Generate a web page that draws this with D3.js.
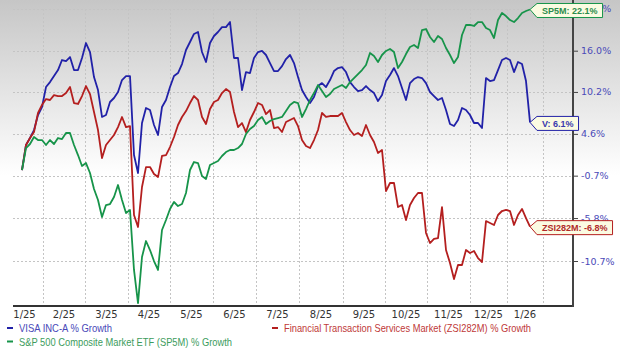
<!DOCTYPE html>
<html>
<head>
<meta charset="utf-8">
<script src="https://cdn.jsdelivr.net/npm/d3@7"></script>
<style>
  body { margin: 0; background: #fff; }
  svg { display: block; font-family: "Liberation Sans", Arial, sans-serif; }
</style>
</head>
<body>
<div id="content"></div>
<script>
// month labels and month boundaries (in sample index units)
const monthLabels = ["1/25", "2/25", "3/25", "4/25", "5/25", "6/25", "7/25", "8/25", "9/25", "10/25", "11/25", "12/25", "1/26"]
const monthEdges = [-4, 5.25, 15.75, 26.5, 37, 47.75, 58.5, 69.25, 80.25, 90.75, 101.25, 112, 121.25, 130.25]

// right axis ticks (% growth, log spaced)
const yTicks = [22.2, 16.0, 10.2, 4.6, -0.7, -5.8, -10.7]

// % growth since start, sampled every other session
const visa = [0, 3.16, 4.06, 5.10, 7.08, 8.15, 10.87, 11.56, 12.40, 13.24,
  14.66, 14.52, 15.09, 13.24, 13.24, 14.95, 17.11, 15.81, 12.26, 10.46,
  6.82, 7.08, 8.83, 9.37, 10.19, 11.84, 12.40, 12.40, 1.88, -0.37,
  6.02, 8.02, 7.75, 5.76, 4.45, 8.15, 9.10, 10.87, 12.40, 12.82,
  14.09, 16.10, 17.26, 18.44, 18.73, 15.81, 14.38, 17.11, 18.14, 18.73,
  19.46, 19.46, 20.21, 14.95, 14.95, 10.46, 12.96, 12.82, 14.95, 15.81,
  15.96, 15.38, 14.23, 13.10, 13.10, 13.80, 14.80, 15.38, 14.23, 12.26,
  10.46, 9.50, 8.69, 9.50, 11.01, 11.42, 10.87, 11.84, 13.10, 13.52,
  13.66, 12.96, 11.56, 10.87, 10.32, 10.46, 11.01, 10.46, 10.05, 8.96,
  9.77, 11.70, 12.54, 13.52, 12.40, 10.74, 9.10, 11.42, 11.98, 12.26,
  12.12, 11.42, 10.19, 9.64, 9.10, 9.37, 7.75, 5.89, 5.62, 6.42,
  8.02, 7.75, 7.08, 6.02, 6.02, 5.36, 12.12, 11.70, 11.84, 13.24,
  14.66, 14.95, 14.66, 12.96, 14.38, 14.09, 11.70, 6.10]

const zsi = [0, 3.16, 4.06, 4.84, 7.35, 8.43, 9.23, 9.10, 9.77, 9.64,
  9.64, 10.05, 10.87, 8.69, 8.56, 9.64, 11.01, 9.91, 7.48, 5.10,
  1.50, 3.16, 3.80, 4.45, 5.49, 6.82, 5.49, 5.62, -5.44, -6.84,
  -2.09, 0.37, 0.37, -0.50, -0.87, 1.76, 1.88, 2.90, 4.19, 5.76,
  6.82, 7.61, 8.69, 9.64, 9.10, 6.82, 5.89, 7.88, 8.83, 9.10,
  10.05, 10.60, 10.19, 7.48, 5.49, 6.02, 4.84, 6.42, 7.48, 8.69,
  8.43, 7.21, 7.75, 5.36, 5.49, 4.84, 6.15, 6.42, 6.68, 5.62,
  3.80, 3.03, 2.77, 3.80, 5.10, 7.35, 6.82, 6.95, 6.95, 6.95,
  7.35, 6.15, 5.10, 4.45, 4.71, 4.32, 5.76, 4.45, 3.54, 2.14,
  2.52, -2.58, -1.60, -1.60, -4.50, -4.26, -6.03, -4.26, -3.42, -2.82,
  -2.82, -7.53, -8.68, -8.22, -8.11, -4.50, -9.47, -10.92, -12.68, -11.14,
  -11.14, -9.47, -9.81, -9.58, -10.37, -10.81, -6.15, -6.38, -6.61, -5.44,
  -4.97, -4.85, -4.97, -6.61, -5.44, -4.73, -5.80, -6.80]

const sp5m = [0, 2.77, 3.29, 4.19, 3.80, 3.80, 3.16, 3.80, 3.29, 4.06,
  3.93, 4.71, 4.71, 3.16, 1.88, 0.50, 0.87, -0.37, -2.34, -3.66,
  -5.68, -4.26, -4.14, -3.30, -1.85, -3.66, -5.21, -4.85, -11.69, -15.25,
  -10.25, -8.45, -9.47, -10.70, -11.69, -7.19, -6.03, -4.73, -3.90, -4.38,
  -4.14, -2.82, 0.00, 1.00, 0.87, -0.74, -1.11, 0.62, 0.87, 1.13,
  1.76, 2.26, 2.52, 2.52, 2.77, 3.29, 4.58, 5.23, 5.62, 6.42,
  6.82, 5.89, 6.29, 6.55, 6.68, 6.82, 7.61, 8.43, 8.83, 8.69,
  6.82, 7.88, 9.10, 10.05, 11.15, 10.32, 9.50, 9.91, 10.60, 10.87,
  11.15, 10.74, 11.56, 12.12, 12.68, 13.24, 13.95, 15.67, 15.24, 14.38,
  15.38, 15.96, 16.25, 15.81, 13.52, 14.38, 15.52, 16.53, 16.82, 16.39,
  19.02, 19.17, 17.99, 17.26, 18.14, 17.70, 16.39, 15.38, 14.23, 15.09,
  18.29, 19.77, 19.77, 19.62, 20.21, 20.21, 19.32, 19.02, 17.84, 20.51,
  21.57, 21.11, 20.51, 20.21, 20.81, 21.57, 21.87, 22.10]

const seriesNames = ["V", "ZSI282M", "SP5M"]
const legendLabels = ["VISA INC-A % Growth", "Financial Transaction Services Market (ZSI282M) % Growth", "S&P 500 Composite Market ETF (SP5M) % Growth"]

const series = [
  {name: seriesNames[0], values: visa, line: "#2121a8", text: "#3a3aae", legend: "#4848b8"},
  {name: seriesNames[1], values: zsi, line: "#b41f1f", text: "#b02a2a", legend: "#c03838"},
  {name: seriesNames[2], values: sp5m, line: "#17944a", text: "#2b8c4c", legend: "#3c9c5c"},
]

const W = 620, H = 351
const plot = {left: 13, right: 573, top: 0, bottom: 306}

const svg = d3.select("#content").append("svg")
    .attr("width", W)
    .attr("height", H)

// background gradient
const grad = svg.append("defs").append("linearGradient")
    .attr("id", "bg")
    .attr("x1", 0).attr("y1", 0).attr("x2", 0).attr("y2", 1)
grad.append("stop").attr("offset", "0%").attr("stop-color", "#c6c6c6")
grad.append("stop").attr("offset", "50%").attr("stop-color", "#ffffff")
svg.append("rect")
    .attr("width", W)
    .attr("height", H)
    .attr("fill", "url(#bg)")

// scales
const x = d3.scaleLinear()
    .domain([-2.25, 137.75])
    .range([plot.left, plot.right])
const y = d3.scaleLog()
    .domain([0.8444, 1.2355])
    .range([plot.bottom, plot.top])
const yg = g => y(1 + g / 100)

// grid
const grid = svg.append("g")
    .attr("stroke", "#c4c4c4")
    .attr("stroke-width", 1)
    .attr("stroke-dasharray", "2,2")
grid.selectAll(".hgrid")
    .data(yTicks)
    .enter().append("line")
    .attr("x1", plot.left)
    .attr("x2", plot.right)
    .attr("y1", d => Math.round(yg(d)) + 0.5)
    .attr("y2", d => Math.round(yg(d)) + 0.5)
grid.selectAll(".vgrid")
    .data(monthEdges.slice(1))
    .enter().append("line")
    .attr("x1", d => Math.round(x(d)) + 0.5)
    .attr("x2", d => Math.round(x(d)) + 0.5)
    .attr("y1", Math.round(yg(yTicks[0])))
    .attr("y2", plot.bottom)

// lines
const line = d3.line()
    .x((d, i) => x(i))
    .y(d => yg(d))

svg.selectAll(".series")
    .data(series)
    .enter().append("path")
    .attr("class", "series")
    .attr("d", d => line(d.values))
    .attr("fill", "none")
    .attr("stroke", d => d.line)
    .attr("stroke-width", 1.8)
    .attr("stroke-linejoin", "round")

// bottom axis line + month labels
svg.append("line")
    .attr("x1", plot.left).attr("x2", plot.right + 1)
    .attr("y1", plot.bottom).attr("y2", plot.bottom)
    .attr("stroke", "#333")
    .attr("stroke-width", 2)

svg.selectAll(".month")
    .data(monthLabels)
    .enter().append("text")
    .attr("x", (d, i) => x((monthEdges[i] + monthEdges[i + 1]) / 2))
    .attr("y", 318)
    .attr("text-anchor", "middle")
    .style("font-family", "'DejaVu Sans', Verdana, sans-serif")
    .style("font-size", "10px")
    .attr("fill", "#333")
    .text(d => d)

// right axis
const yAxis = d3.axisRight(y)
    .tickValues(yTicks.map(t => 1 + t / 100))
    .tickFormat((d, i) => yTicks[i].toFixed(1) + "%")
    .tickSize(5)
    .tickPadding(3)
const ax = svg.append("g")
    .attr("transform", `translate(${plot.right}, 0)`)
    .call(yAxis)
ax.select(".domain").remove()
ax.selectAll(".tick line").attr("stroke", "#444")
ax.selectAll(".tick text")
    .attr("fill", "#4a4ab8")
    .style("font-family", "'DejaVu Sans', Verdana, sans-serif")
    .style("font-size", "9.5px")

svg.append("line")
    .attr("x1", plot.right).attr("x2", plot.right)
    .attr("y1", 0).attr("y2", plot.bottom + 1)
    .attr("stroke", "#444")
    .attr("stroke-width", 2)

// end-of-line callouts
series.forEach(s => {
    const last = s.values[s.values.length - 1]
    const tipX = x(s.values.length - 1)
    const tipY = yg(last)
    const cy = tipY + 1
    const g = svg.append("g")
    const txt = g.append("text")
        .attr("x", tipX + 12)
        .attr("y", cy)
        .attr("dy", "0.35em")
        .style("font-size", "9px")
        .style("font-weight", "bold")
        .attr("fill", s.text)
        .text(`${s.name}: ${last.toFixed(1)}%`)
    const w = txt.node().getComputedTextLength()
    const bx = tipX + 7, bw = w + 10, h = 7
    g.insert("path", "text")
        .attr("d", `M${tipX},${tipY} L${bx},${cy - h} L${bx + bw},${cy - h} L${bx + bw},${cy + h} L${bx},${cy + h} Z`)
        .attr("fill", "#fbfbe2")
        .attr("stroke", s.line)
        .attr("stroke-width", 1)
})

// legend
const legendPos = [[7, 328], [272, 328], [7, 341.5]]
const legendWidths = [93, 247, 213]
series.forEach((s, i) => {
    const [lx, ly] = legendPos[i]
    svg.append("line")
        .attr("x1", lx).attr("x2", lx + 6)
        .attr("y1", ly).attr("y2", ly)
        .attr("stroke", s.line)
        .attr("stroke-width", 2)
    svg.append("text")
        .attr("x", lx + 12)
        .attr("y", ly + 4)
        .style("font-size", "10.5px")
        .attr("fill", s.legend)
        .attr("textLength", legendWidths[i])
        .attr("lengthAdjust", "spacingAndGlyphs")
        .text(legendLabels[i])
})
</script>
</body>
</html>
